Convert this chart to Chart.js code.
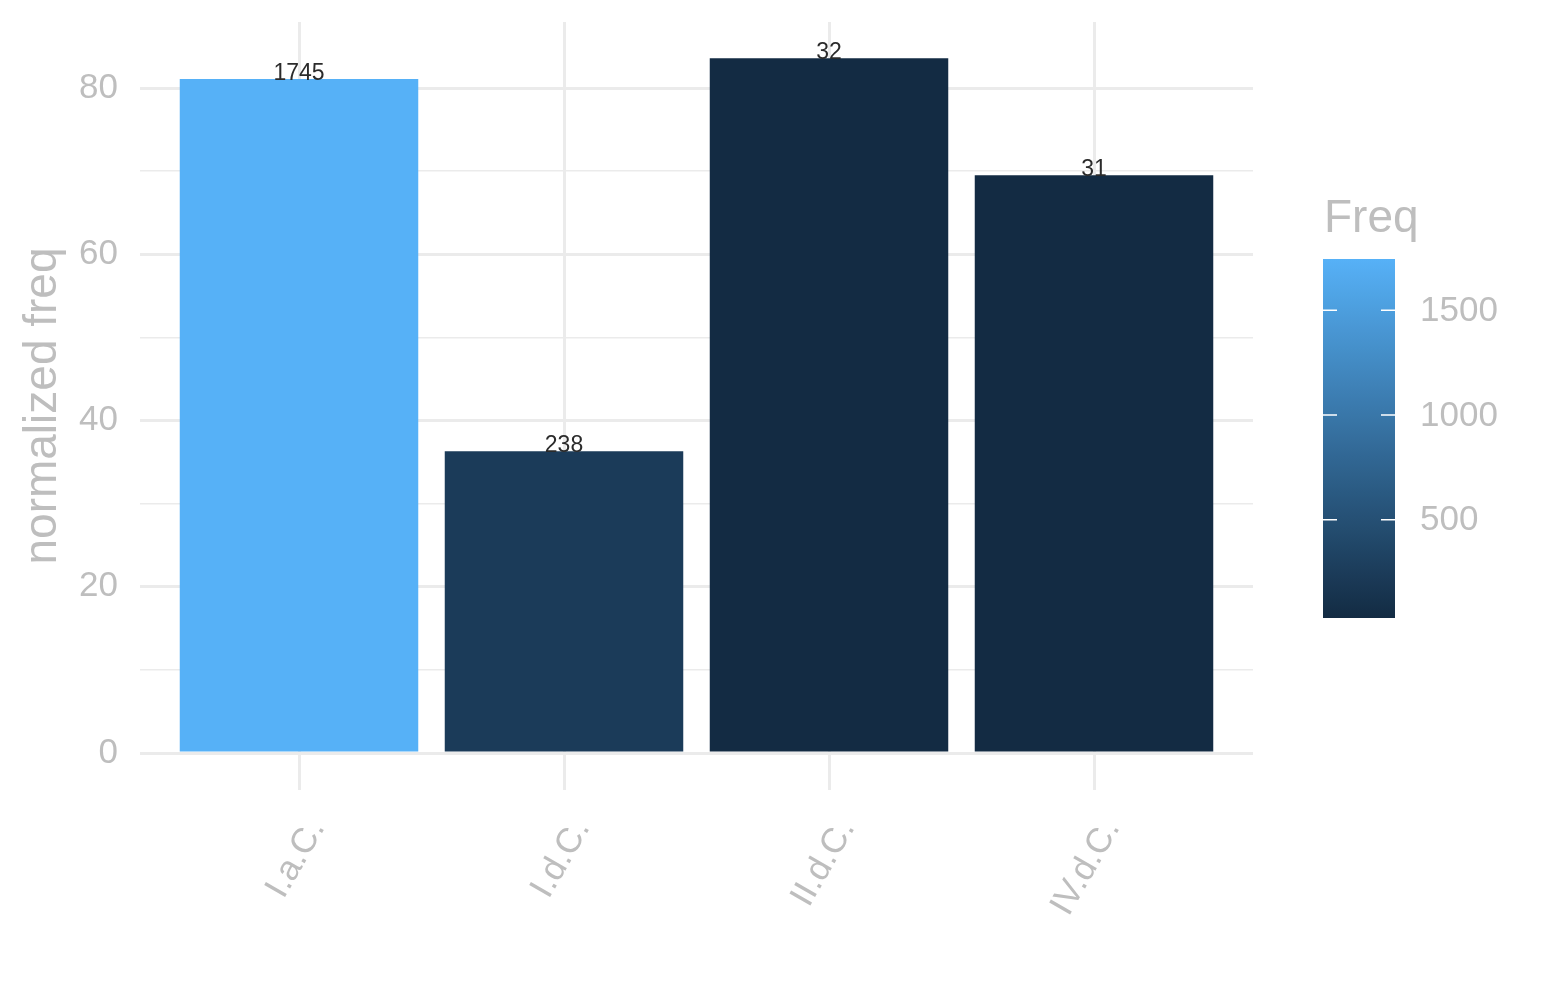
<!DOCTYPE html>
<html lang="en">
<head>
  <meta charset="UTF-8">
  <title>normalized freq</title>
  <script src="https://cdn.jsdelivr.net/npm/chart.js"></script>
  <style>
    body {
      margin: 0;
      background-color: #fff;
      font-family: 'Liberation Sans', sans-serif;
    }
    .chart-container {
      width: 1545px;
      height: 1000px;
    }
  </style>
</head>
<body>

  <div class="chart-container">
    <canvas id="freqChart"></canvas>
  </div>

  <script>
    // data
    const categories = ['I.a.C.', 'I.d.C.', 'II.d.C.', 'IV.d.C.'];
    const normalizedFreq = [81.1, 36.3, 83.6, 69.5];
    const freq = [1745, 238, 32, 31];
    const yTicks = [0, 10, 20, 30, 40, 50, 60, 70, 80];
    const yLabelTicks = [0, 20, 40, 60, 80];
    const freqTicks = [500, 1000, 1500];

    const low = [19, 43, 67];    // #132B43
    const high = [86, 177, 247]; // #56B1F7
    const fMin = Math.min(...freq);
    const fMax = Math.max(...freq);

    function freqColor(v) {
      const t = (v - fMin) / (fMax - fMin);
      const c = low.map((l, i) => Math.round(l + (high[i] - l) * t));
      return `rgb(${c[0]}, ${c[1]}, ${c[2]})`;
    }

    const greyText = '#BEBEBE';
    const gridColor = '#EBEBEB';

    // labels on top of bars
    const valueLabels = {
      id: 'valueLabels',
      afterDatasetsDraw(chart) {
        const ctx = chart.ctx;
        const meta = chart.getDatasetMeta(0);
        ctx.save();
        ctx.font = '23px "Liberation Sans"';
        ctx.fillStyle = '#2b2b2b';
        ctx.textAlign = 'center';
        ctx.textBaseline = 'alphabetic';
        meta.data.forEach((bar, i) => {
          ctx.fillText(String(freq[i]), bar.x, bar.y + 1);
        });
        ctx.restore();
      }
    };

    // colour bar legend
    const colorBar = {
      id: 'colorBar',
      afterDraw(chart) {
        const ctx = chart.ctx;
        const left = 1323, right = 1395, top = 259, bottom = 618;
        const yOf = v => bottom - (v - fMin) / (fMax - fMin) * (bottom - top);
        ctx.save();
        const grad = ctx.createLinearGradient(0, bottom, 0, top);
        for (let k = 0; k <= 20; k++) {
          grad.addColorStop(k / 20, freqColor(fMin + (fMax - fMin) * k / 20));
        }
        ctx.fillStyle = grad;
        ctx.fillRect(left, top, right - left, bottom - top);

        ctx.strokeStyle = '#fff';
        ctx.lineWidth = 1.5;
        ctx.font = '35px "Liberation Sans"';
        ctx.fillStyle = greyText;
        ctx.textAlign = 'left';
        ctx.textBaseline = 'middle';
        freqTicks.forEach(v => {
          const y = yOf(v);
          ctx.beginPath();
          ctx.moveTo(left, y); ctx.lineTo(left + 14, y);
          ctx.moveTo(right - 14, y); ctx.lineTo(right, y);
          ctx.stroke();
          ctx.fillText(String(v), 1420, y + 1);
        });

        ctx.font = '46px "Liberation Sans"';
        ctx.textBaseline = 'alphabetic';
        ctx.fillText('Freq', 1324, 232);
        ctx.restore();
      }
    };

    function noPadding(scale) {
      scale.paddingTop = 0;
      scale.paddingBottom = 0;
      scale.paddingLeft = 0;
      scale.paddingRight = 0;
    }

    const ctxFreq = document.getElementById('freqChart').getContext('2d');
    const freqChart = new Chart(ctxFreq, {
      type: 'bar',
      data: {
        datasets: [{
          label: 'normalized freq',
          data: normalizedFreq.map((v, i) => ({ x: i + 1, y: v })),
          backgroundColor: freq.map(freqColor),
          borderWidth: 0,
          categoryPercentage: 0.9,
          barPercentage: 1.0
        }]
      },
      options: {
        responsive: true,
        maintainAspectRatio: false,
        animation: false,
        layout: {
          padding: { top: 22, right: 292, bottom: 0, left: 0 }
        },
        plugins: {
          legend: { display: false },
          tooltip: { enabled: false }
        },
        scales: {
          x: {
            type: 'linear',
            min: 0.4,
            max: 4.6,
            offset: false,
            afterBuildTicks: scale => {
              scale.ticks = categories.map((c, i) => ({ value: i + 1 }));
            },
            afterFit: scale => { scale.height = 210; noPadding(scale); },
            border: { display: false },
            grid: { color: gridColor, lineWidth: 3, drawTicks: false, offset: false },
            ticks: {
              color: greyText,
              font: { family: 'Liberation Sans', size: 35 },
              minRotation: 60,
              maxRotation: 60,
              padding: 22,
              labelOffset: 18,
              callback: v => categories[v - 1]
            }
          },
          y: {
            min: -4.45,
            max: 87.95,
            afterBuildTicks: scale => {
              scale.ticks = yTicks.map(v => ({ value: v }));
            },
            afterFit: scale => { scale.width = 140; noPadding(scale); },
            border: { display: false },
            grid: {
              color: gridColor,
              lineWidth: ctx => (yLabelTicks.includes(ctx.tick.value) ? 3 : 1.5),
              drawTicks: false
            },
            ticks: {
              color: greyText,
              font: { family: 'Liberation Sans', size: 35 },
              padding: 22,
              callback: v => (yLabelTicks.includes(v) ? String(v) : '')
            },
            title: {
              display: true,
              text: 'normalized freq',
              color: greyText,
              font: { family: 'Liberation Sans', size: 46 },
              padding: { top: 16, bottom: 0 }
            }
          }
        }
      },
      plugins: [valueLabels, colorBar]
    });
  </script>

</body>
</html>
